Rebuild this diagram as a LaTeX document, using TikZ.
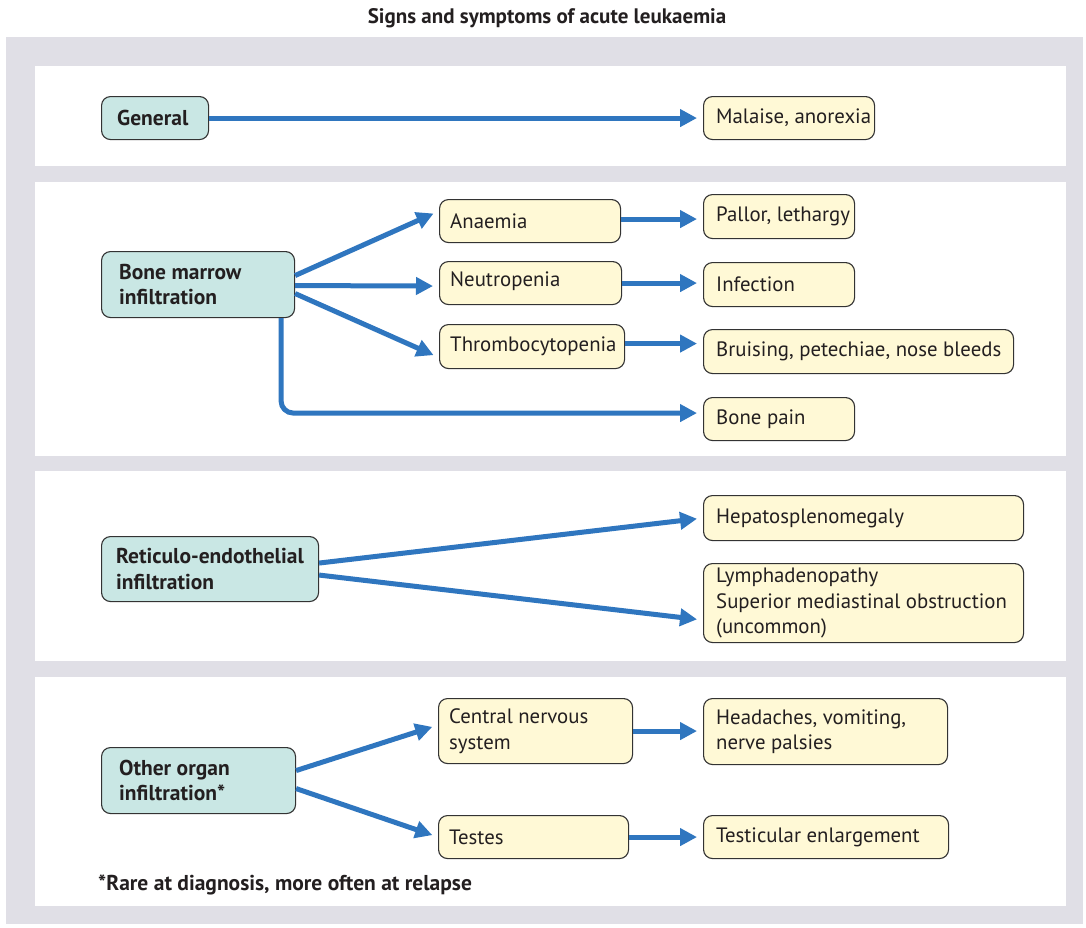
\documentclass[tikz,border=0pt]{standalone}
\usepackage{fontspec}
\setmainfont{PT Sans}
\usetikzlibrary{arrows.meta,calc}
\definecolor{bgray}{HTML}{E0DFE6}
\definecolor{tealf}{HTML}{C9E7E4}
\definecolor{yelf}{HTML}{FFF9D6}
\definecolor{bord}{HTML}{333333}
\definecolor{arrb}{HTML}{2F76BF}
\definecolor{txt}{HTML}{231F20}
\tikzset{
  boxbase/.style={draw=bord, line width=1.1pt, rounded corners=9pt, anchor=north west,
    inner sep=0pt},
  cause/.style={boxbase, fill=tealf},
  effect/.style={boxbase, fill=yelf},
  ctext/.style={anchor=west, align=left, inner sep=0pt, text=txt, font=\bfseries\fontsize{21.5}{25.5}\selectfont},
  etext/.style={anchor=west, align=left, inner sep=0pt, text=txt, font=\fontsize{20.8}{25.5}\selectfont},
  arr/.style={draw=arrb, line width=5pt, -{Triangle[length=17pt,width=17pt]}, shorten >=6pt},
  panel/.style={fill=white, draw=none}
}
\begin{document}
\begin{tikzpicture}[x=1pt,y=-1pt]
\useasboundingbox (0,0) rectangle (1086,927);
\fill[bgray] (6,37) rectangle (1083,924);
\fill[panel] (35,66) rectangle (1066,166);
\fill[panel] (35,182) rectangle (1066,456);
\fill[panel] (35,471) rectangle (1066,661);
\fill[panel] (35,677) rectangle (1066,906);

\node[font=\bfseries\fontsize{21}{24}\selectfont, text=txt] (title) at (547,18) {Signs and symptoms of acute leukaemia};

% causes
\node[cause, minimum width=107pt, minimum height=43pt] (gen) at (101,96) {};
\node[ctext] (gent) at ($(gen.west)+(16,0)$) {General};
\node[cause, minimum width=193pt, minimum height=66pt] (bm) at (101,251) {};
\node[ctext] (bmt) at ($(bm.west)+(18,0)$) {Bone marrow\\infiltration};
\node[cause, minimum width=217pt, minimum height=65pt] (re) at (101,536) {};
\node[ctext] (ret) at ($(re.west)+(15,0)$) {Reticulo-endothelial\\infiltration};
\node[cause, minimum width=194pt, minimum height=66pt] (oo) at (101,747) {};
\node[ctext] (oot) at ($(oo.west)+(18,0)$) {Other organ\\infiltration*};

% effects
\node[effect, minimum width=171pt, minimum height=43pt] (mal) at (703,96) {};
\node[etext] (malt) at ($(mal.west)+(13,0)$) {Malaise, anorexia};

\node[effect, minimum width=181pt, minimum height=43pt] (an) at (439,199) {};
\node[etext] (ant) at ($(an.west)+(11,0)$) {Anaemia};
\node[effect, minimum width=182pt, minimum height=43pt] (ne) at (439,261) {};
\node[etext] (net) at ($(ne.west)+(11,-2)$) {Neutropenia};
\node[effect, minimum width=185pt, minimum height=44pt] (th) at (439,324) {};
\node[etext] (tht) at ($(th.west)+(11,0)$) {Thrombocytopenia};

\node[effect, minimum width=151pt, minimum height=44pt] (pl) at (703,194) {};
\node[etext] (plt) at ($(pl.west)+(13,0)$) {Pallor, lethargy};
\node[effect, minimum width=151pt, minimum height=44pt] (inf) at (703,262) {};
\node[etext] (inft) at ($(inf.west)+(13,0)$) {Infection};
\node[effect, minimum width=310pt, minimum height=44pt] (br) at (703,329) {};
\node[etext] (brt) at ($(br.west)+(13,0)$) {Bruising, petechiae, nose bleeds};
\node[effect, minimum width=151pt, minimum height=43pt] (bp) at (703,397) {};
\node[etext] (bpt) at ($(bp.west)+(13,0)$) {Bone pain};

\node[effect, minimum width=320pt, minimum height=45pt] (hs) at (703,495) {};
\node[etext] (hst) at ($(hs.west)+(13,0)$) {Hepatosplenomegaly};
\node[effect, minimum width=320pt, minimum height=79pt] (ly) at (703,563) {};
\node[etext] (lyt) at ($(ly.west)+(13,0)$) {Lymphadenopathy\\Superior mediastinal obstruction\\(uncommon)};

\node[effect, minimum width=194pt, minimum height=65pt] (cns) at (438,698) {};
\node[etext] (cnst) at ($(cns.west)+(11,0)$) {Central nervous\\system};
\node[effect, minimum width=244pt, minimum height=66pt] (hd) at (703,698) {};
\node[etext] (hdt) at ($(hd.west)+(13,0)$) {Headaches, vomiting,\\nerve palsies};
\node[effect, minimum width=190pt, minimum height=43pt] (te) at (438,815) {};
\node[etext] (tet) at ($(te.west)+(11,0)$) {Testes};
\node[effect, minimum width=245pt, minimum height=43pt] (tg) at (703,815) {};
\node[etext] (tgt) at ($(tg.west)+(13,0)$) {Testicular enlargement};

\node[anchor=west, inner sep=0pt, text=txt, font=\bfseries\fontsize{21.5}{24}\selectfont] (foot) at (98,885) {*Rare at diagnosis, more often at relapse};

% arrows
\draw[arr] (gen.east) -- (gen.east -| mal.west);
\draw[arr] ($(bm.east)+(0,-9)$) -- ($(an.west)+(0,-10)$);
\draw[arr] ($(bm.east)+(0,1)$) -- ($(ne.west)+(0,3)$);
\draw[arr] ($(bm.east)+(0,9)$) -- ($(th.west)+(0,11)$);
\draw[arr, rounded corners=12pt] ($(bm.south east)+(-14,0)$) |- ($(bp.west)+(0,-6)$);
\draw[arr] ($(an.east)+(0,-2)$) -- ($(an.east -| pl.west)+(0,-2)$);
\draw[arr] (ne.east) -- (ne.east -| inf.west);
\draw[arr] ($(th.east)+(0,-3)$) -- ($(th.east -| br.west)+(0,-3)$);
\draw[arr] ($(re.east)+(0,-6)$) -- ($(hs.west)+(0,0)$);
\draw[arr] ($(re.east)+(0,6)$) -- ($(ly.west)+(0,17)$);
\draw[arr] ($(oo.east)+(0,-10)$) -- ($(cns.west)+(0,-6)$);
\draw[arr] ($(oo.east)+(0,8)$) -- ($(te.west)+(0,0)$);
\draw[arr] (cns.east) -- (cns.east -| hd.west);
\draw[arr] (te.east) -- (te.east -| tg.west);
\end{tikzpicture}
\end{document}
